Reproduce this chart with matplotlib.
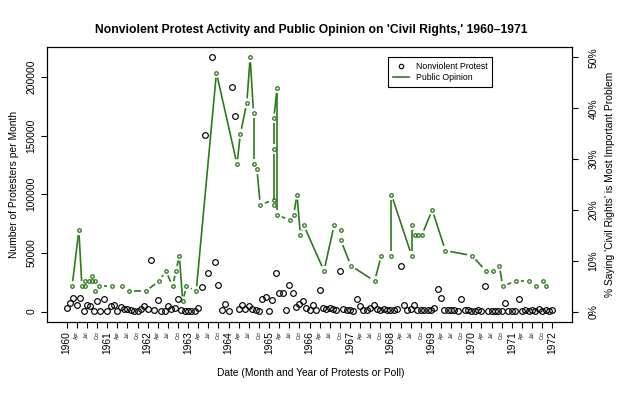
import numpy as np
import matplotlib.pyplot as plt
from matplotlib.lines import Line2D

plt.rcParams['font.family'] = ['Liberation Sans', 'DejaVu Sans']

# protesters per month, one value per month from Jan 1960 to Jan 1972
protest = [2900, 7100, 11400, 5700, 11400, 600, 5700, 5100, 200, 9400, 200, 10800,
           200, 4300, 5700, 300, 3700, 2000, 2000, 1400, 600, 600, 2000, 4300,
           2300, 44000, 1400, 10000, 300, 300, 4300, 2000, 3400, 10500, 900, 300,
           200, 200, 300, 3400, 21300, 150600, 32700, 216500, 42600, 22700, 1200, 6300,
           700, 191500, 166300, 2000, 5800, 2000, 4900, 1800, 1200, 600, 10800, 12200,
           650, 10000, 32500, 15600, 16100, 1000, 22500, 15400, 3500, 6700, 8600, 3400,
           1400, 5700, 900, 18300, 2800, 2000, 2800, 2300, 1400, 34600, 2300, 900,
           1400, 200, 10700, 4800, 1400, 1400, 2800, 5900, 2000, 900, 2300, 1400,
           900, 1400, 2000, 39200, 5500, 900, 2300, 5500, 1400, 1400, 1400, 1400,
           900, 3400, 19300, 11600, 1400, 1400, 1400, 900, 600, 10500, 1400, 900,
           600, 300, 1200, 600, 22000, 300, 300, 300, 300, 300, 7100, 300,
           300, 300, 10500, 300, 1000, 500, 1500, 500, 2500, 800, 1200, 300,
           1000]

# poll dates (months since Jan 1960) and % naming civil rights
poll_month = [1.6, 3.6, 4.5, 5.5, 5.5, 6.5, 7.5, 7.5, 8.5, 8.5, 9.5, 13.5,
              16.5, 18.5, 23.4, 27.4, 29.4, 31.4, 32.4, 33.4, 34.4, 35.5, 38.4, 44.4,
              50.5, 51.5, 53.4, 54.4, 55.4, 55.4, 56.4, 57.4, 61.4, 61.4, 61.4, 61.4,
              62.4, 62.4, 66.2, 67.3, 68.3, 69.3, 70.3, 76.3, 79.3, 81.3, 81.3, 84.3,
              91.3, 93.3, 96.3, 96.3, 102.3, 102.3, 103.3, 104.3, 105.3, 108.4, 112.3, 120.2,
              124.3, 126.3, 128.3, 129.3, 133.2, 137.2, 139.2, 141.2, 142.2]
poll_pct = [5, 16, 5, 5, 6, 6, 6, 7, 6, 4, 5, 5,
            5, 4, 4, 6, 8, 5, 8, 11, 2, 5, 4, 47,
            29, 35, 41, 50, 39, 29, 28, 21, 22, 21, 32, 38,
            44, 19, 18, 19, 23, 15, 17, 8, 17, 16, 14, 9,
            6, 11, 11, 23, 11, 17, 15, 15, 15, 20, 12, 11,
            8, 8, 9, 5, 6, 6, 5, 6, 5]

years = list(range(1960, 1973))
quarter_names = ['Apr', 'Jul', 'Oct']
left_ticks = [0, 50000, 100000, 150000, 200000]
right_ticks = [0, 10, 20, 30, 40, 50]

green = '#2d7a1c'
fs = 7.4

fig = plt.figure(figsize=(6.23, 3.93), dpi=100)
W, H = 623, 393
ax = fig.add_axes([47.3 / W, 1 - 321.7 / H, (571.7 - 47.3) / W, (321.7 - 47.3) / H])
ax2 = ax.twinx()

ax.set_xlim(-5.76, 149.76)
ax.set_ylim(-8660, 225160)
ax2.set_ylim(-2, 52)

months = np.arange(len(protest))
ax.plot(months, protest, ls='none', marker='o', ms=4.1, mfc='none', mec='black', mew=0.85)

# R type="b": line pieces stop short of each point
gap = 5.0
pts = ax2.transData.transform(np.column_stack([poll_month, poll_pct]))
inv = ax2.transData.inverted()
for p, q in zip(pts[:-1], pts[1:]):
    d = q - p
    L = np.hypot(d[0], d[1])
    if L <= 2 * gap:
        continue
    u = d / L
    a = inv.transform(p + u * gap)
    b = inv.transform(q - u * gap)
    ax2.plot([a[0], b[0]], [a[1], b[1]], color=green, lw=1.2, solid_capstyle='butt')
ax2.plot(poll_month, poll_pct, ls='none', marker='o', ms=2.5, mfc='none', mec=green, mew=0.95)

# x axis: years and quarters
ax.set_xticks([12 * (y - 1960) for y in years], labels=[str(y) for y in years])
qpos = [12 * (y - 1960) + 3 * k for y in years[:-1] for k in (1, 2, 3)]
qlab = [quarter_names[k - 1] for y in years[:-1] for k in (1, 2, 3)]
ax.set_xticks(qpos, labels=qlab, minor=True)
ax.tick_params(axis='x', which='major', labelsize=fs, rotation=90, length=4, width=0.8, pad=3)
ax.tick_params(axis='x', which='minor', labelsize=3.6, rotation=90, length=4, width=0.8, pad=3)

ax.set_yticks(left_ticks, labels=[str(v) for v in left_ticks])
ax.tick_params(axis='y', labelsize=fs, labelrotation=90, length=4, width=0.8, pad=4)
ax2.set_yticks(right_ticks, labels=['%d%%' % v for v in right_ticks])
ax2.tick_params(axis='y', labelsize=fs, labelrotation=90, length=4, width=0.8, pad=8)
for lab in ax.get_yticklabels():
    lab.set_va('center')
for lab in ax2.get_yticklabels():
    lab.set_va('center')

for a_ in (ax, ax2):
    for s in a_.spines.values():
        s.set_linewidth(0.8)
        s.set_color('black')

fig.text(311 / W, 1 - 30 / H, "Nonviolent Protest Activity and Public Opinion on 'Civil Rights,' 1960\u20131971",
         ha='center', va='center', fontsize=8.7, fontweight='bold')
fig.text(311 / W, 1 - 373 / H, 'Date (Month and Year of Protests or Poll)',
         ha='center', va='center', fontsize=fs)
fig.text(14 / W, 1 - 184.5 / H, 'Number of Protesters per Month',
         ha='center', va='center', fontsize=fs, rotation=90)
fig.text(610 / W, 1 - 184.5 / H, "% Saying 'Civil Rights' is Most Important Problem",
         ha='center', va='center', fontsize=fs, rotation=90)

handles = [Line2D([], [], ls='none', marker='o', ms=3.2, mfc='none', mec='black', mew=0.8),
           Line2D([], [], color=green, lw=1.2)]
leg = ax2.legend(handles, ['Nonviolent Protest', 'Public Opinion'], loc='upper left',
                 bbox_to_anchor=(0.65, 0.965), fontsize=6.3, frameon=True, fancybox=False,
                 edgecolor='black', framealpha=1, handlelength=1.8, labelspacing=0.25,
                 borderpad=0.55, handletextpad=0.8, borderaxespad=0)
leg.get_frame().set_linewidth(0.8)

fig.savefig('out.png', dpi=100)
